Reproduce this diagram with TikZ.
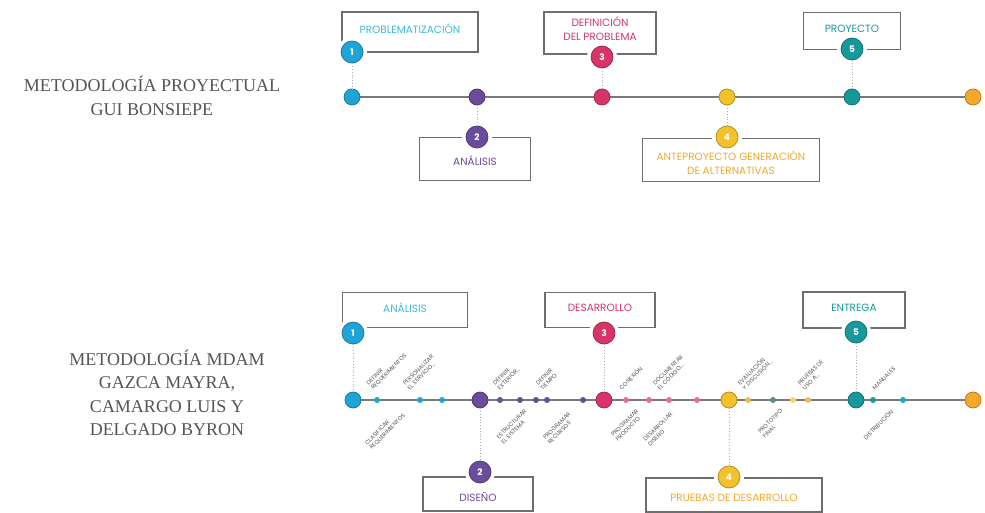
\documentclass[tikz,border=0pt]{standalone}
\usepackage{fontspec}
\setmainfont{Liberation Serif}
\newfontfamily\pop{Poppins}
\definecolor{cblue}{HTML}{1FA4D8}
\definecolor{cpurple}{HTML}{6A4C9C}
\definecolor{ccrimson}{HTML}{D93468}
\definecolor{cyellow}{HTML}{F3C22B}
\definecolor{cteal}{HTML}{17999B}
\definecolor{corange}{HTML}{F5A82A}
\definecolor{tblue}{HTML}{3DB9DA}
\definecolor{lgray}{HTML}{7A7A7A}
\definecolor{bgray}{HTML}{6E6E6E}
\definecolor{tgray}{HTML}{555555}
\tikzset{
  bigc/.style={circle, minimum size=22pt, inner sep=0pt, fill=#1, draw=#1!70!black, line width=0.7pt, text=white, font=\pop\bfseries\small},
  ring/.style={circle, minimum size=30pt, inner sep=0pt, fill=white},
  tdot/.style={circle, minimum size=16pt, inner sep=0pt, fill=#1, draw=#1!70!black, line width=0.7pt},
  sdot/.style={circle, minimum size=6pt, inner sep=0pt, fill=#1},
  stagebox/.style={draw=bgray, line width=1.5pt, fill=white, inner sep=0pt},
  stagetext/.style={font=\pop\fontsize{10.5}{14}\selectfont, align=center, text=#1},
  vlink/.style={draw=lgray!60, line width=0.8pt, dotted},
  tline/.style={draw=lgray, line width=1.6pt},
  lab/.style={font=\pop\fontsize{5.8}{6.6}\selectfont, text=tgray, align=left, rotate=45, inner sep=1pt},
  title/.style={font=\fontsize{18}{23.5}\selectfont, text=tgray, align=center}
}
\begin{document}
\begin{tikzpicture}[x=1pt,y=-1pt]
\useasboundingbox (0,0) rectangle (985,513);
\fill[white] (0,0) rectangle (985,513);

% ---------- titles
\node[title] (t1) at (152,96) {METODOLOGÍA PROYECTUAL\\GUI BONSIEPE};
\node[title] (t2) at (167,393) {METODOLOGÍA MDAM\\GAZCA MAYRA,\\CAMARGO LUIS Y\\DELGADO BYRON};

% ---------- top timeline
\coordinate (ta) at (352,97);
\coordinate (tb) at (973,97);
\draw[tline] (ta) -- (tb);

% boxes top
\node[stagebox, minimum width=136pt, minimum height=40pt] (b1) at (410,32) {};
\node[stagetext=tblue] (bt1) at (410,29) {PROBLEMATIZACIÓN};
\node[stagebox, minimum width=112pt, minimum height=42pt] (b3) at (600,33) {};
\node[stagetext=ccrimson] (bt3) at (600,29) {DEFINICIÓN\\DEL PROBLEMA};
\node[stagebox, minimum width=97pt, minimum height=37pt] (b5) at (852,31) {};
\node[stagetext=cteal] (bt5) at (852,29) {PROYECTO};
\node[stagebox, minimum width=111pt, minimum height=43pt] (b2) at (475,159) {};
\node[stagetext=cpurple] (bt2) at (475,161) {ANÁLISIS};
\node[stagebox, minimum width=177pt, minimum height=43pt] (b4) at (731,160) {};
\node[stagetext=corange] (bt4) at (731,163) {ANTEPROYECTO GENERACIÓN\\DE ALTERNATIVAS};

% rings (gaps in box edges)
\node[ring] (r1) at (352,52) {};
\node[ring] (r3) at (602,57) {};
\node[ring] (r5) at (852,49) {};
\node[ring] (r2) at (477,137) {};
\node[ring] (r4) at (727,137) {};

% timeline dots top
\node[tdot=cblue] (d1) at (352,97) {};
\node[tdot=cpurple] (d2) at (477,97) {};
\node[tdot=ccrimson] (d3) at (602,97) {};
\node[tdot=cyellow] (d4) at (727,97) {};
\node[tdot=cteal] (d5) at (852,97) {};
\node[tdot=corange] (d6) at (973,97) {};

% big circles top
\node[bigc=cblue] (c1) at (352,52) {1};
\node[bigc=ccrimson] (c3) at (602,57) {3};
\node[bigc=cteal] (c5) at (852,49) {5};
\node[bigc=cpurple] (c2) at (477,137) {2};
\node[bigc=cyellow] (c4) at (727,137) {4};

\draw[vlink] (c1) -- (d1);
\draw[vlink] (c3) -- (d3);
\draw[vlink] (c5) -- (d5);
\draw[vlink] (d2) -- (c2);
\draw[vlink] (d4) -- (c4);

% ---------- bottom timeline
\coordinate (ua) at (353,400);
\coordinate (ub) at (973,400);
\draw[tline] (ua) -- (ub);

\node[stagebox, minimum width=125pt, minimum height=35pt] (e1) at (405,310) {};
\node[stagetext=tblue] (et1) at (405,308) {ANÁLISIS};
\node[stagebox, minimum width=110pt, minimum height=35pt] (e3) at (600,310) {};
\node[stagetext=ccrimson] (et3) at (600,308) {DESARROLLO};
\node[stagebox, minimum width=102pt, minimum height=36pt] (e5) at (854,310) {};
\node[stagetext=cteal] (et5) at (854,308) {ENTREGA};
\node[stagebox, minimum width=110pt, minimum height=34pt] (e2) at (478,494) {};
\node[stagetext=cpurple] (et2) at (478,497) {DISEÑO};
\node[stagebox, minimum width=176pt, minimum height=34pt] (e4) at (734,495) {};
\node[stagetext=corange] (et4) at (734,498) {PRUEBAS DE DESARROLLO};

\node[ring] (s1) at (353,333) {};
\node[ring] (s3) at (604,333) {};
\node[ring] (s5) at (856,332) {};
\node[ring] (s2) at (480,472) {};
\node[ring] (s4) at (729,477) {};

% small dots
\node[sdot=cblue] (m1) at (377,400) {};
\node[sdot=cblue] (m2) at (420,400) {};
\node[sdot=cblue] (m3) at (442,400) {};
\node[sdot=cpurple] (m4) at (500,400) {};
\node[sdot=cpurple] (m5) at (520,400) {};
\node[sdot=cpurple] (m6) at (536,400) {};
\node[sdot=cpurple] (m7) at (547,400) {};
\node[sdot=cpurple] (m8) at (583,400) {};
\node[sdot=ccrimson!70] (m9) at (626,400) {};
\node[sdot=ccrimson!70] (m10) at (649,400) {};
\node[sdot=ccrimson!70] (m11) at (669,400) {};
\node[sdot=ccrimson!70] (m12) at (697,400) {};
\node[sdot=corange!80] (m13) at (748,400) {};
\node[sdot=cteal!60!black!70] (m14) at (773,400) {};
\node[sdot=cyellow!70] (m15) at (793,400) {};
\node[sdot=corange!80] (m16) at (808,400) {};
\node[sdot=cteal] (m17) at (873,400) {};
\node[sdot=cblue] (m18) at (903,400) {};

% big dots bottom
\node[tdot=cblue] (u1) at (353,400) {};
\node[tdot=cpurple] (u2) at (480,400) {};
\node[tdot=ccrimson] (u3) at (604,400) {};
\node[tdot=cyellow] (u4) at (729,400) {};
\node[tdot=cteal] (u5) at (856,400) {};
\node[tdot=corange] (u6) at (973,400) {};

\node[bigc=cblue] (k1) at (353,333) {1};
\node[bigc=ccrimson] (k3) at (604,333) {3};
\node[bigc=cteal] (k5) at (856,332) {5};
\node[bigc=cpurple] (k2) at (480,472) {2};
\node[bigc=cyellow] (k4) at (729,477) {4};

\draw[vlink] (k1) -- (u1);
\draw[vlink] (k3) -- (u3);
\draw[vlink] (k5) -- (u5);
\draw[vlink] (u2) -- (k2);
\draw[vlink] (u4) -- (k4);

% rotated labels above
\node[lab, anchor=south west] (l1) at (374,392) {DEFINIR\\REQUERIMIENTOS};
\node[lab, anchor=south west] (l2) at (410,392) {PERSONALIZAR\\EL SERVICIO...};
\node[lab, anchor=south west] (l3) at (500,392) {DEFINIR\\EXTERIOR...};
\node[lab, anchor=south west] (l4) at (543,392) {DEFINIR\\TIEMPO};
\node[lab, anchor=south west] (l5) at (622,392) {CONEXIÓN};
\node[lab, anchor=south west] (l6) at (660,392) {DOCUMENTAR\\EL CÓDIGO...};
\node[lab, anchor=south west] (l7) at (745,392) {EVALUACIÓN\\Y DISCUSIÓN...};
\node[lab, anchor=south west] (l8) at (805,392) {PRUEBAS DE\\USO A...};
\node[lab, anchor=south west] (l9) at (875,392) {MANUALES};

% rotated labels below
\node[lab, anchor=north east] (n1) at (398,407) {CLASIFICAR\\REQUERIMIENTOS};
\node[lab, anchor=north east] (n2) at (524,407) {ESTRUCTURAR\\EL SISTEMA};
\node[lab, anchor=north east] (n3) at (568,410) {PROGRAMAR\\RECURSOS};
\node[lab, anchor=north east] (n4) at (636,407) {PROGRAMAR\\PRODUCTO};
\node[lab, anchor=north east] (n5) at (670,410) {DESARROLLAR\\DISEÑO};
\node[lab, anchor=north east] (n6) at (780,407) {PROTOTIPO\\FINAL};
\node[lab, anchor=north east] (n7) at (890,407) {DISTRIBUCIÓN};
\end{tikzpicture}
\end{document}
